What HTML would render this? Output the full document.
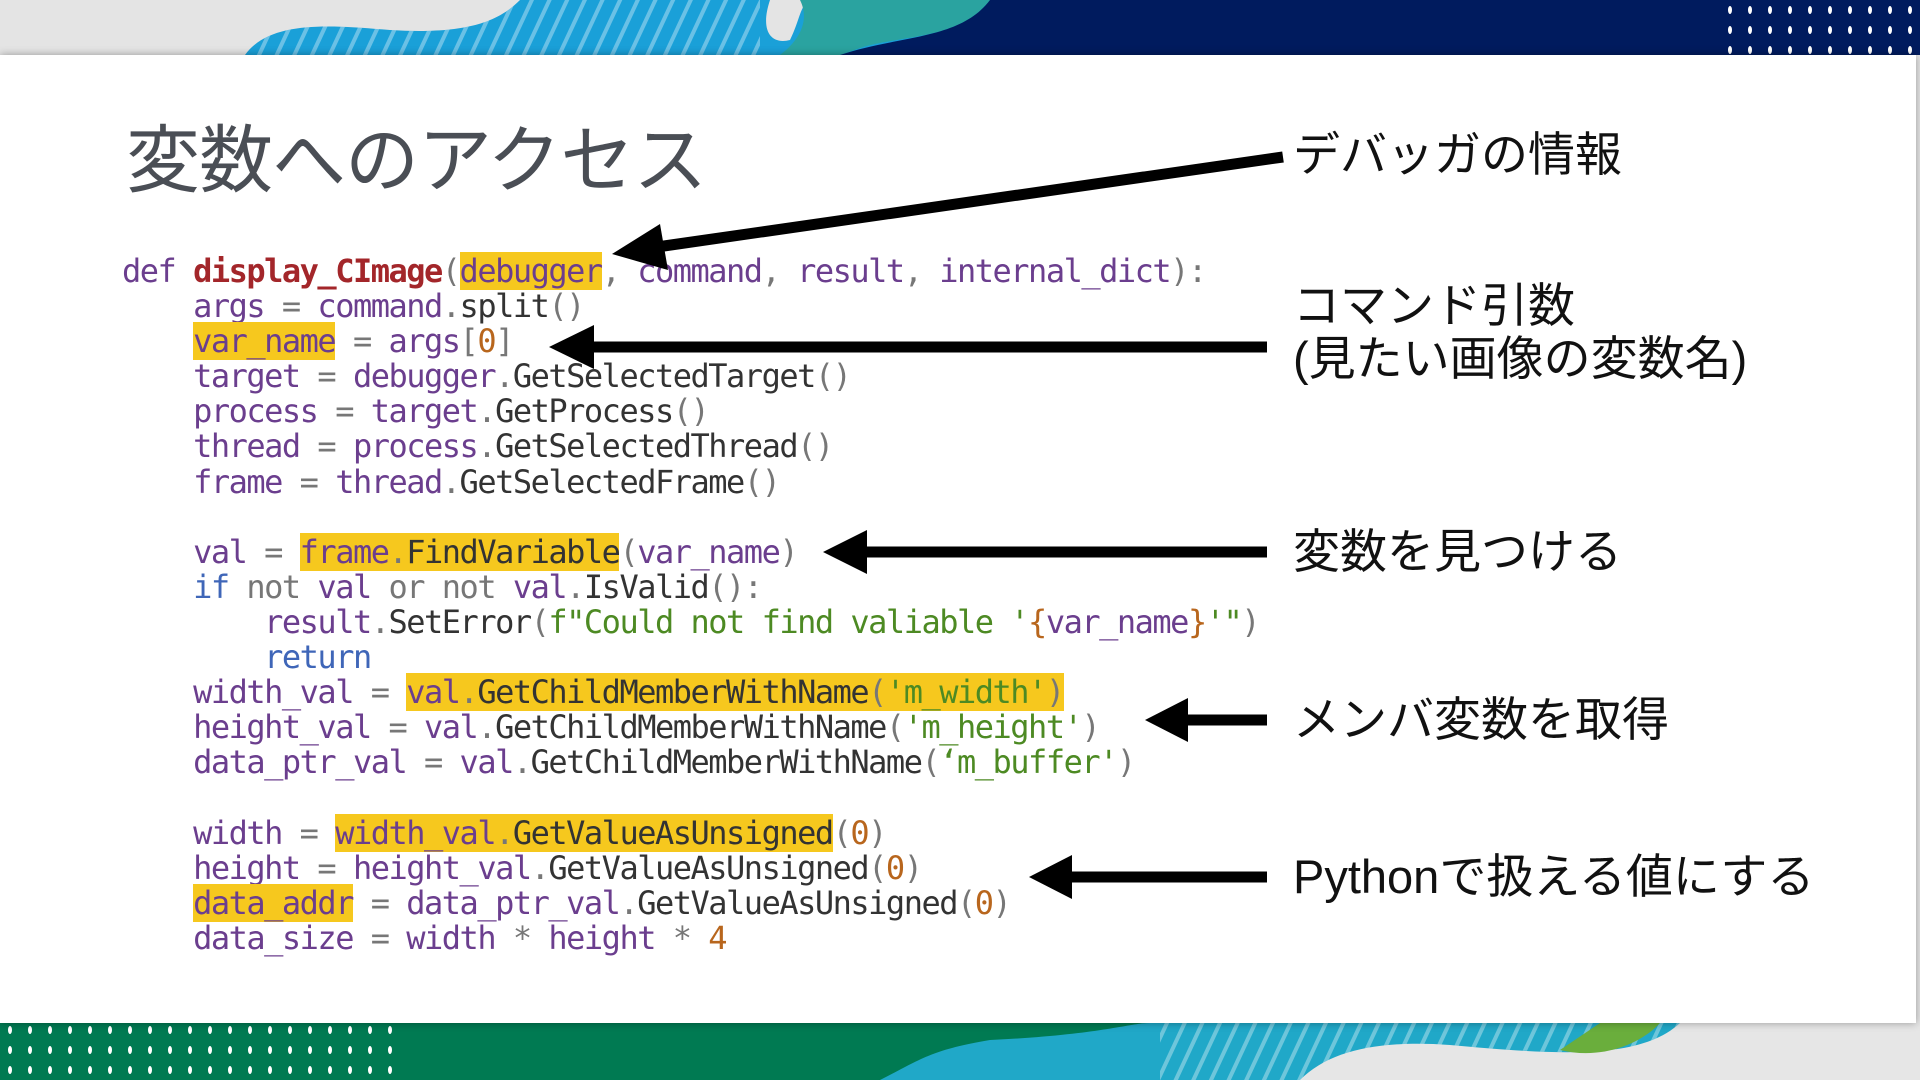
<!DOCTYPE html>
<html><head><meta charset="utf-8"><style>
html,body{margin:0;padding:0;width:1920px;height:1080px;overflow:hidden;background:#e6e6e6;position:relative}
.panel{position:absolute;left:0;top:55px;width:1916px;height:968px;background:#fff;box-shadow:0 0 8px rgba(0,0,0,.35)}
.title{position:absolute;left:126px;top:124px;font:74px "Liberation Sans","Noto Sans CJK JP",sans-serif;color:#4a4e55;line-height:1;letter-spacing:-1px}
pre{position:absolute;left:122px;top:254px;margin:0;font-family:"DejaVu Sans Mono",monospace;font-size:32px;letter-spacing:-1.5px;line-height:35.1px;color:#6b3e8e}
.o{color:#777}.m{color:#333}.f{color:#a3262a;font-weight:bold}.k{color:#3f66b8}.s{color:#4d8a23}.n{color:#b8661d}.h{background:#f6c81e}
.lab{position:absolute;left:1293px;font:47px "Liberation Sans","Noto Sans CJK JP",sans-serif;color:#111;line-height:1;white-space:nowrap}
svg{position:absolute;left:0;top:0}
</style></head><body>
<svg width="1920" height="1080">
<defs><pattern id="st" width="16" height="16" patternUnits="userSpaceOnUse" patternTransform="rotate(25)"><rect width="16" height="16" fill="none"/><rect width="4" height="16" fill="rgba(255,255,255,.35)"/></pattern>
<pattern id="dt" width="20" height="20" patternUnits="userSpaceOnUse"><ellipse cx="10" cy="10" rx="2" ry="4" fill="#fff"/></pattern></defs>
<rect x="0" y="0" width="1920" height="55" fill="#e4e4e4"/>
<path d="M245 55 C270 20 330 25 390 30 C470 35 500 20 520 0 L1000 0 L1000 55 Z" fill="#1aa0d8"/>
<path d="M245 55 C270 20 330 25 390 30 C470 35 500 20 520 0 L760 0 L760 55 Z" fill="url(#st)"/>
<path d="M770 0 C760 30 770 45 790 40 C800 20 800 5 810 0 Z" fill="#e4e4e4"/>
<path d="M800 0 L990 0 C960 40 900 35 860 48 L840 55 L780 55 C800 40 810 20 800 0Z" fill="#2aa3a0"/>
<path d="M990 0 L1920 0 L1920 55 L840 55 C900 35 960 40 990 0Z" fill="#001b5e"/>
<rect x="1715" y="0" width="205" height="55" fill="url(#dt)"/>
<rect x="0" y="1023" width="1920" height="57" fill="#007a52"/>
<rect x="0" y="1023" width="395" height="57" fill="url(#dt)"/>
<path d="M880 1080 C920 1060 930 1050 990 1040 C1100 1035 1130 1023 1150 1023 L1700 1023 L1700 1080Z" fill="#20a8c8"/>
<path d="M1160 1023 L1690 1023 C1650 1060 1560 1055 1450 1045 C1380 1040 1330 1060 1310 1080 L1160 1080Z" fill="url(#st)"/>
<path d="M1300 1080 C1330 1050 1380 1040 1450 1045 C1560 1055 1640 1060 1680 1023 L1920 1023 L1920 1080Z" fill="#e6e6e6"/>
<path d="M1660 1023 C1640 1045 1600 1060 1560 1050 L1600 1023Z" fill="#6aae3c"/>
</svg>
<div class="panel"></div>
<div class="title">変数へのアクセス</div>
<pre><span>def </span><span class="f">display_CImage</span><span class="o">(</span><span class="h">debugger</span><span class="o">, </span>command<span class="o">, </span>result<span class="o">, </span>internal_dict<span class="o">):</span>
    args <span class="o">=</span> command<span class="o">.</span><span class="m">split</span><span class="o">()</span>
    <span class="h">var_name</span> <span class="o">=</span> args<span class="o">[</span><span class="n">0</span><span class="o">]</span>
    target <span class="o">=</span> debugger<span class="o">.</span><span class="m">GetSelectedTarget</span><span class="o">()</span>
    process <span class="o">=</span> target<span class="o">.</span><span class="m">GetProcess</span><span class="o">()</span>
    thread <span class="o">=</span> process<span class="o">.</span><span class="m">GetSelectedThread</span><span class="o">()</span>
    frame <span class="o">=</span> thread<span class="o">.</span><span class="m">GetSelectedFrame</span><span class="o">()</span>

    val <span class="o">=</span> <span class="h">frame<span class="o">.</span><span class="m">FindVariable</span></span><span class="o">(</span>var_name<span class="o">)</span>
    <span class="k">if</span> <span class="o">not</span> val <span class="o">or not</span> val<span class="o">.</span><span class="m">IsValid</span><span class="o">():</span>
        result<span class="o">.</span><span class="m">SetError</span><span class="o">(</span><span class="s">f"Could not find valiable '</span><span class="n">{</span>var_name<span class="n">}</span><span class="s">'"</span><span class="o">)</span>
        <span class="k">return</span>
    width_val <span class="o">=</span> <span class="h">val<span class="o">.</span><span class="m">GetChildMemberWithName</span><span class="o">(</span><span class="s">'m_width'</span><span class="o">)</span></span>
    height_val <span class="o">=</span> val<span class="o">.</span><span class="m">GetChildMemberWithName</span><span class="o">(</span><span class="s">'m_height'</span><span class="o">)</span>
    data_ptr_val <span class="o">=</span> val<span class="o">.</span><span class="m">GetChildMemberWithName</span><span class="o">(</span><span class="s">‘m_buffer'</span><span class="o">)</span>

    width <span class="o">=</span> <span class="h">width_val<span class="o">.</span><span class="m">GetValueAsUnsigned</span></span><span class="o">(</span><span class="n">0</span><span class="o">)</span>
    height <span class="o">=</span> height_val<span class="o">.</span><span class="m">GetValueAsUnsigned</span><span class="o">(</span><span class="n">0</span><span class="o">)</span>
    <span class="h">data_addr</span> <span class="o">=</span> data_ptr_val<span class="o">.</span><span class="m">GetValueAsUnsigned</span><span class="o">(</span><span class="n">0</span><span class="o">)</span>
    data_size <span class="o">=</span> width <span class="o">*</span> height <span class="o">*</span> <span class="n">4</span></pre>
<svg width="1920" height="1080">
<g fill="#000" stroke="#000">
<line x1="1283" y1="157" x2="650" y2="248" stroke-width="11"/>
<polygon points="612,254 660,224 668,270" stroke="none"/>
<line x1="1267" y1="347" x2="590" y2="347" stroke-width="11"/>
<polygon points="549,347 594,325 594,369" stroke="none"/>
<line x1="1267" y1="552" x2="860" y2="552" stroke-width="11"/>
<polygon points="823,552 867,530 867,574" stroke="none"/>
<line x1="1267" y1="720" x2="1180" y2="720" stroke-width="11"/>
<polygon points="1145,720 1188,698 1188,742" stroke="none"/>
<line x1="1267" y1="877" x2="1065" y2="877" stroke-width="11"/>
<polygon points="1029,877 1072,855 1072,899" stroke="none"/>
</g></svg>
<div class="lab" style="top:131px">デバッガの情報</div>
<div class="lab" style="top:282px">コマンド引数</div>
<div class="lab" style="top:335px">(見たい画像の変数名)</div>
<div class="lab" style="top:528px">変数を見つける</div>
<div class="lab" style="top:696px">メンバ変数を取得</div>
<div class="lab" style="top:853px">Pythonで扱える値にする</div>
</body></html>
